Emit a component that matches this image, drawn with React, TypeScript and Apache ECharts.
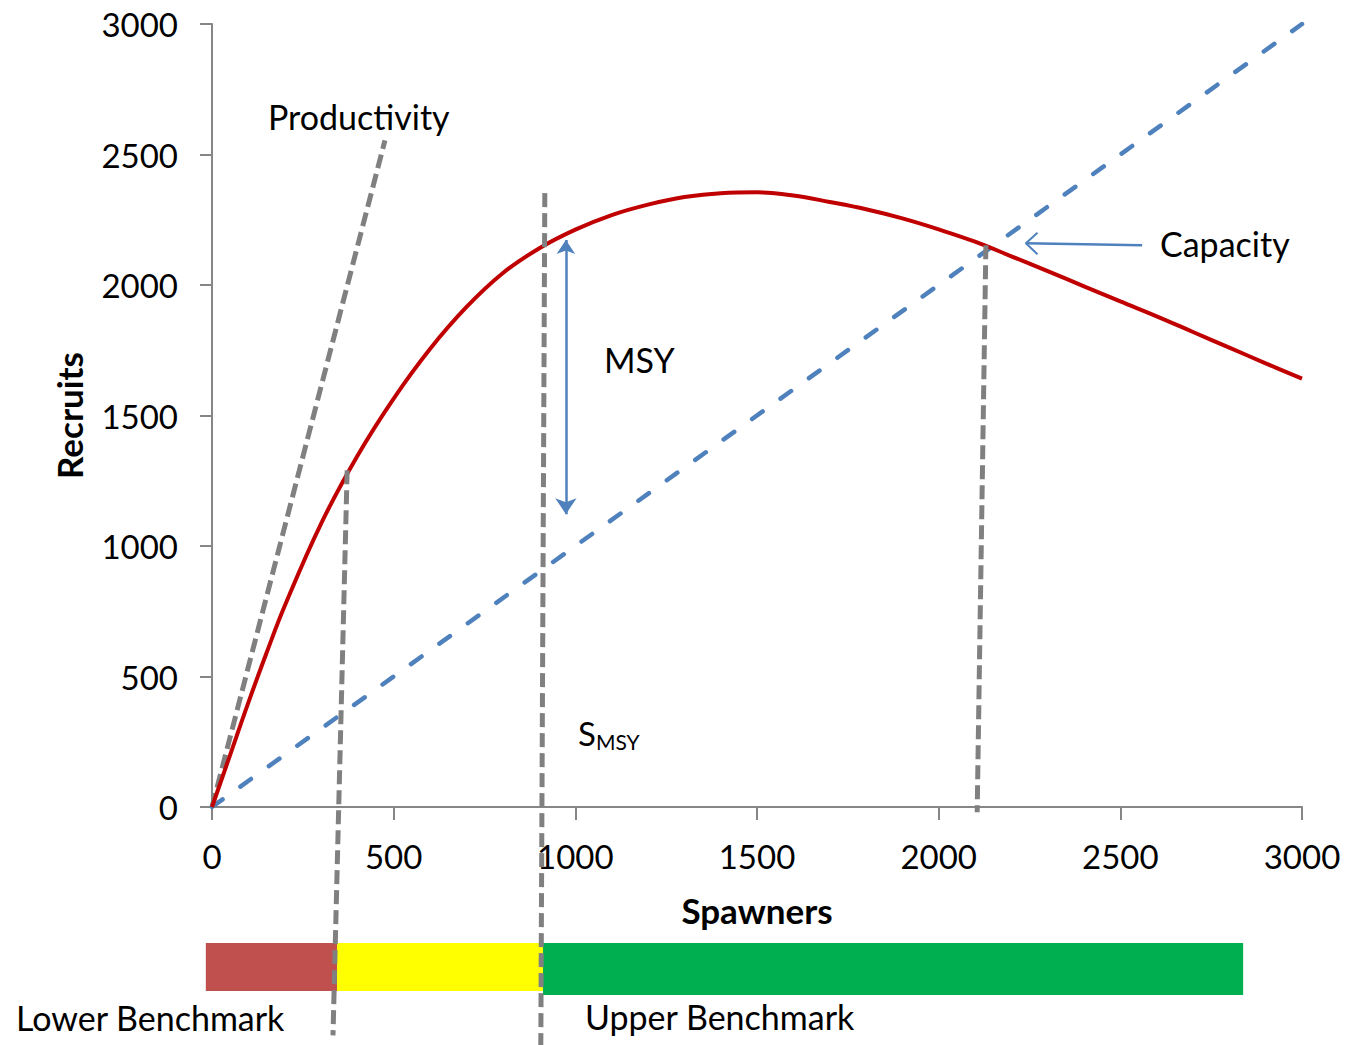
import React, { useEffect, useRef } from "react";
import * as echarts from "echarts";

// Stock–recruitment (Ricker-type) curve
const spawners = [0, 50, 100, 150, 200, 300, 400, 500, 600, 700, 800, 900, 1000, 1100, 1200, 1300, 1400, 1500, 1600, 1700, 1800, 1900, 2000, 2100, 2200, 2300, 2400, 2500, 2600, 2700, 2800, 2900, 3000];
const recruits = [0, 200, 400, 590, 770, 1085, 1345, 1565, 1755, 1915, 2045, 2140, 2212, 2268, 2308, 2337, 2352, 2355, 2343, 2318, 2290, 2255, 2213, 2166, 2110, 2053, 1995, 1937, 1880, 1820, 1760, 1700, 1641];

// Replacement line (R = S)
const replacementLine = [[0, 0], [3000, 3000]];
// Productivity (initial slope) line
const productivityLine = [[0, 0], [476, 2554]];
// Benchmark reference lines (extend below the axis)
const lowerBenchmarkLine = [[372, 1290], [333, -875]];
const smsyLine = [[916, 2352], [905, -913]];
const capacityLine = [[2130, 2152], [2106, -20]];
// MSY double arrow
const msyArrow = [[974, 2172], [974, 1122]];
// Capacity arrow (from label to point) and its open head
const capacityArrow = [[2560, 2152], [2240, 2160]];
const capacityHead = [[2272, 2200], [2240, 2160], [2272, 2118]];

// Benchmark bands under the chart (in spawner units)
const bandStart = [-17, 344, 911];
const bandEnd = [344, 911, 2838];
const bandColors = ["#C0504D", "#FFFF00", "#00B050"];

const axisTicks = [0, 500, 1000, 1500, 2000, 2500, 3000];

const FONT = "Lato";

export default function App() {
  const ref = useRef<HTMLDivElement>(null);

  useEffect(() => {
    document.body.style.margin = "0";
    const chart = echarts.init(ref.current!, null, { renderer: "svg" });
    const gray = "#808080";
    const blue = "#4F81BD";
    const grayDash = { color: gray, width: 5, type: [14, 6] };
    const option: any = {
      animation: false,
      backgroundColor: "#fff",
      grid: { left: 212, top: 24, right: 44, bottom: 238 },
      xAxis: {
        type: "value",
        min: axisTicks[0],
        max: axisTicks[axisTicks.length - 1],
        interval: 500,
        name: "Spawners",
        nameLocation: "middle",
        nameGap: 85,
        nameTextStyle: { fontFamily: FONT, fontSize: 35, fontWeight: "bold", color: "#000" },
        axisLine: { lineStyle: { color: "#868686", width: 2 } },
        axisTick: { show: true, inside: false, length: 13, lineStyle: { color: "#868686", width: 2 } },
        axisLabel: { fontFamily: FONT, fontSize: 33, color: "#000", margin: 32, formatter: (v: number) => String(v) },
        splitLine: { show: false },
      },
      yAxis: {
        type: "value",
        min: axisTicks[0],
        max: axisTicks[axisTicks.length - 1],
        interval: 500,
        name: "Recruits",
        nameLocation: "middle",
        nameGap: 126,
        nameRotate: 90,
        nameTextStyle: { fontFamily: FONT, fontSize: 35, fontWeight: "bold", color: "#000" },
        axisLine: { show: true, lineStyle: { color: "#868686", width: 2 } },
        axisTick: { show: true, inside: false, length: 12, lineStyle: { color: "#868686", width: 2 } },
        axisLabel: { fontFamily: FONT, fontSize: 33, color: "#000", margin: 34, formatter: (v: number) => String(v) },
        splitLine: { show: false },
      },
      series: [
        {
          name: "Replacement",
          type: "line",
          data: replacementLine,
          showSymbol: false,
          lineStyle: { color: blue, width: 4.5, type: [13, 22], cap: "round" },
          z: 2,
        },
        {
          name: "Productivity",
          type: "line",
          data: productivityLine,
          showSymbol: false,
          lineStyle: grayDash,
          z: 2,
        },
        {
          name: "Recruitment",
          type: "line",
          data: spawners.map((s, i) => [s, recruits[i]]),
          smooth: 0.4,
          showSymbol: false,
          lineStyle: { color: "#C00000", width: 4 },
          z: 3,
        },
        ...[lowerBenchmarkLine, smsyLine, capacityLine].map((d, i) => ({
          name: "ref" + i,
          type: "line",
          data: d,
          clip: false,
          showSymbol: false,
          lineStyle: grayDash,
          z: 4,
        })),
        {
          name: "MSY arrow",
          type: "lines",
          coordinateSystem: "cartesian2d",
          symbol: ["arrow", "arrow"],
          symbolSize: [14, 16],
          lineStyle: { color: blue, width: 2.5, opacity: 1, curveness: 0 },
          data: [{ coords: msyArrow }],
          z: 5,
        },
        {
          name: "Capacity arrow",
          type: "line",
          data: capacityArrow,
          showSymbol: false,
          lineStyle: { color: blue, width: 2.5 },
          z: 5,
        },
        {
          name: "Capacity head",
          type: "line",
          data: capacityHead,
          showSymbol: false,
          lineStyle: { color: blue, width: 2 },
          z: 5,
        },
      ],
    };
    chart.setOption(option);

    const toPx = (s: number) => (chart.convertToPixel({ gridIndex: 0 }, [s, 0]) as number[])[0];
    const bandTop = 943;
    const bandHeights = [48, 48, 52];
    const bands = bandStart.map((s, i) => {
      const x0 = toPx(s);
      const x1 = toPx(bandEnd[i]);
      return {
        type: "rect",
        shape: { x: x0, y: bandTop, width: x1 - x0, height: bandHeights[i] },
        style: { fill: bandColors[i] },
        z: 1,
      };
    });
    const txt = (text: string, x: number, y: number, extra: any = {}) => ({
      type: "text",
      x,
      y,
      style: {
        text,
        fontFamily: FONT,
        fontSize: 34,
        fill: "#000",
        textVerticalAlign: "middle",
        ...extra,
      },
      z: 10,
    });
    chart.setOption({
      graphic: [
        ...bands,
        txt("Productivity", 268, 116),
        txt("MSY", 604, 359),
        {
          type: "text",
          x: 578,
          y: 733,
          style: {
            text: "{s|S}{sub|MSY}",
            rich: {
              s: { fontFamily: FONT, fontSize: 33, fill: "#000", verticalAlign: "middle" },
              sub: { fontFamily: FONT, fontSize: 21, fill: "#000", padding: [16, 0, 0, 0] },
            },
            textVerticalAlign: "middle",
          },
          z: 10,
        },
        txt("Capacity", 1160, 243),
        txt("Lower Benchmark", 16, 1017),
        txt("Upper Benchmark", 585, 1016),
      ],
    });

    return () => chart.dispose();
  }, []);

  return <div ref={ref} style={{ width: 1346, height: 1045 }} />;
}
